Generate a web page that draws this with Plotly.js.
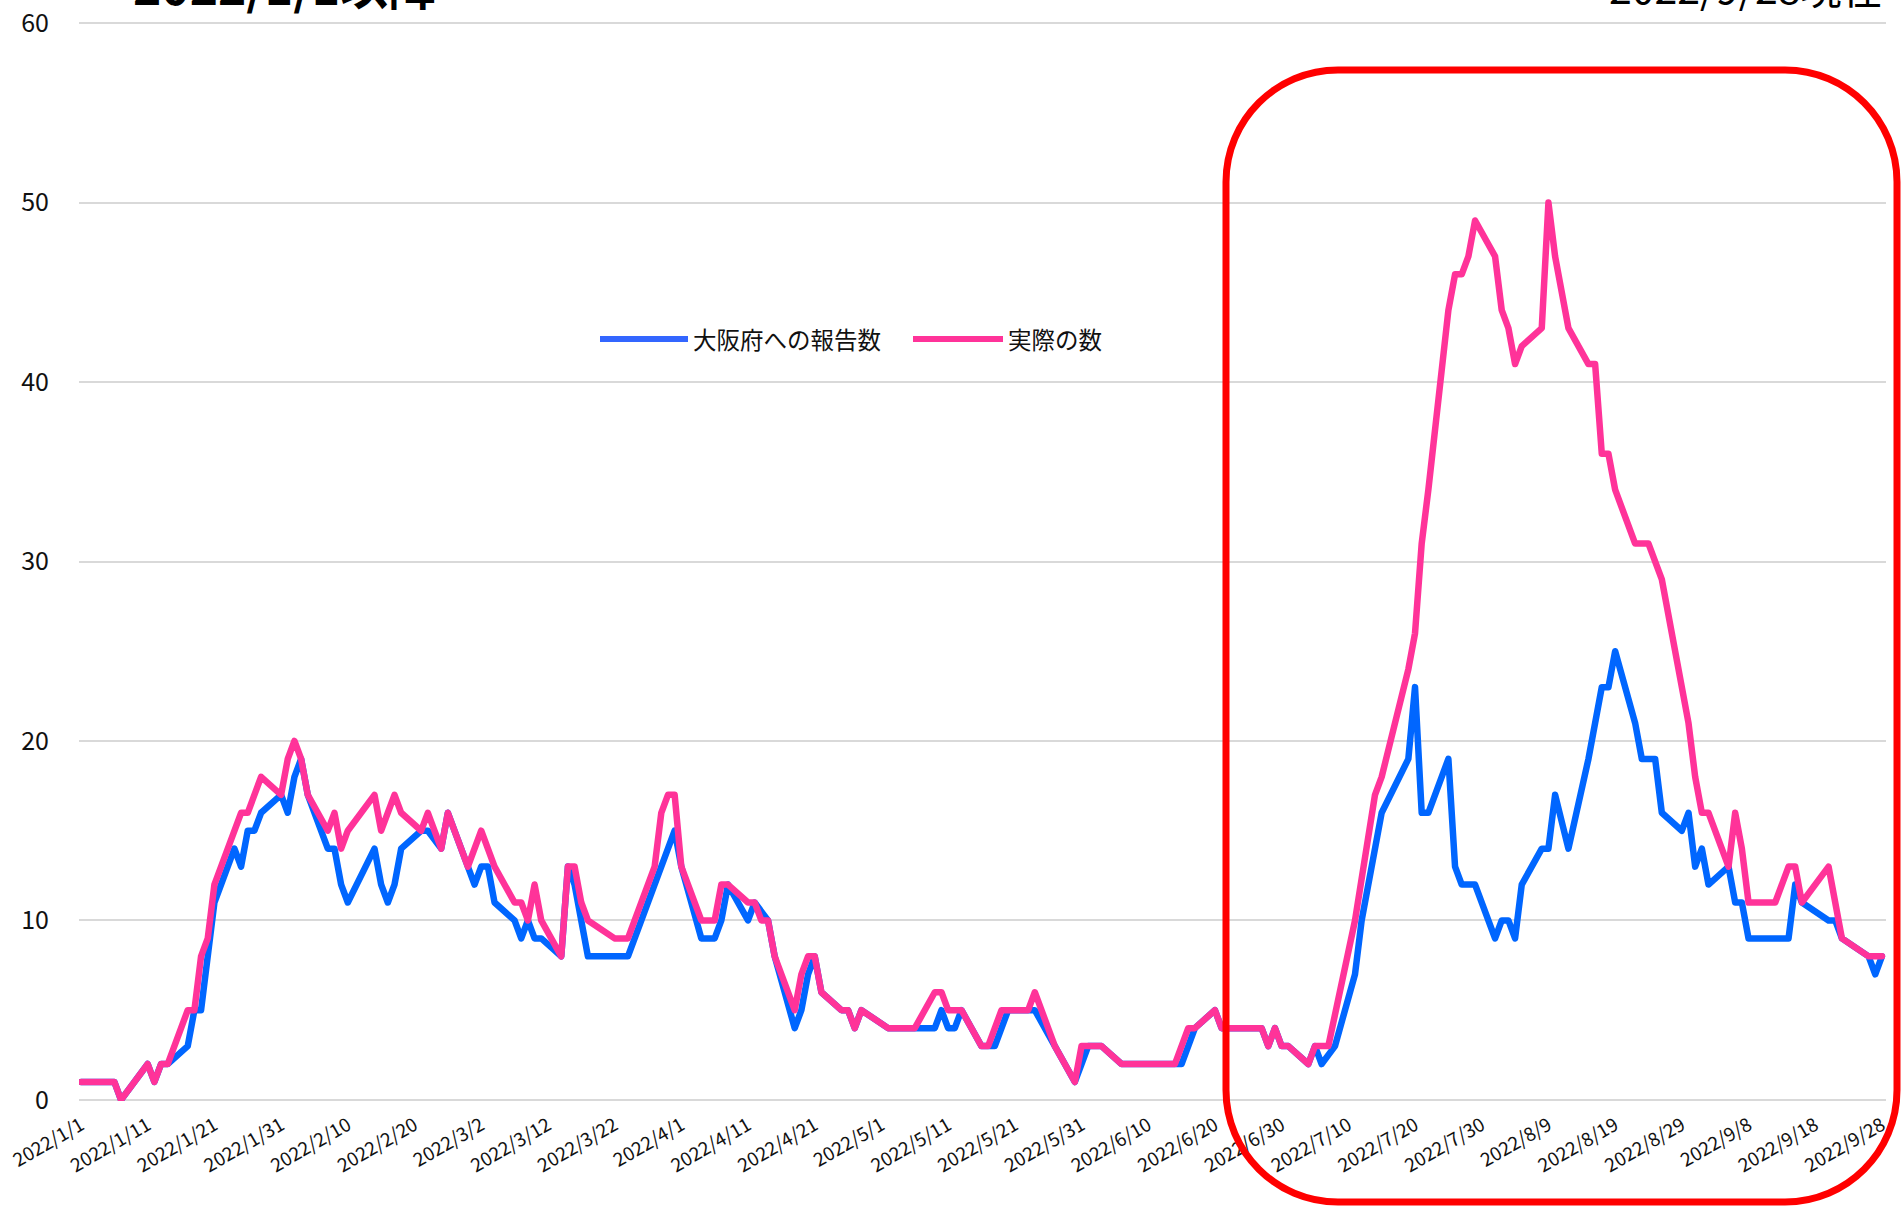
<!DOCTYPE html>
<html><head><meta charset="utf-8">
<script src="https://cdn.plot.ly/plotly-3.0.1.min.js"></script>
<style>
html,body{margin:0;padding:0;background:#fff;}
#chart{width:1901px;height:1206px;}
.scatterlayer .js-line{stroke-linejoin:round;stroke-linecap:round;}
</style></head><body><div id="chart"></div>
<script>
// ---- DATA ----
const seriesNames = ['大阪府への報告数', '実際の数'];
const titleLeft = '2022/1/1以降';
const titleRight = '2022/9/28現在';

const reportedDates = ['2022-01-01','2022-01-06','2022-01-07','2022-01-11','2022-01-12','2022-01-13','2022-01-14','2022-01-17','2022-01-18','2022-01-19','2022-01-21','2022-01-24','2022-01-25','2022-01-26','2022-01-27','2022-01-28','2022-01-31','2022-02-01','2022-02-02','2022-02-03','2022-02-04','2022-02-07','2022-02-08','2022-02-09','2022-02-10','2022-02-14','2022-02-15','2022-02-16','2022-02-17','2022-02-18','2022-02-21','2022-02-22','2022-02-24','2022-02-25','2022-02-28','2022-03-01','2022-03-02','2022-03-03','2022-03-04','2022-03-07','2022-03-08','2022-03-09','2022-03-10','2022-03-11','2022-03-14','2022-03-15','2022-03-16','2022-03-18','2022-03-24','2022-03-31','2022-04-01','2022-04-04','2022-04-06','2022-04-07','2022-04-08','2022-04-11','2022-04-12','2022-04-14','2022-04-15','2022-04-18','2022-04-19','2022-04-20','2022-04-21','2022-04-22','2022-04-25','2022-04-26','2022-04-27','2022-04-28','2022-05-02','2022-05-09','2022-05-10','2022-05-11','2022-05-12','2022-05-13','2022-05-16','2022-05-18','2022-05-20','2022-05-24','2022-05-27','2022-05-30','2022-05-31','2022-06-01','2022-06-03','2022-06-06','2022-06-15','2022-06-17','2022-06-20','2022-06-21','2022-06-27','2022-06-28','2022-06-29','2022-06-30','2022-07-01','2022-07-04','2022-07-05','2022-07-06','2022-07-08','2022-07-11','2022-07-12','2022-07-15','2022-07-19','2022-07-20','2022-07-21','2022-07-22','2022-07-25','2022-07-26','2022-07-27','2022-07-29','2022-08-01','2022-08-02','2022-08-03','2022-08-04','2022-08-05','2022-08-08','2022-08-09','2022-08-10','2022-08-12','2022-08-15','2022-08-17','2022-08-18','2022-08-19','2022-08-22','2022-08-23','2022-08-25','2022-08-26','2022-08-29','2022-08-30','2022-08-31','2022-09-01','2022-09-02','2022-09-05','2022-09-06','2022-09-07','2022-09-08','2022-09-14','2022-09-15','2022-09-16','2022-09-20','2022-09-21','2022-09-22','2022-09-26','2022-09-27','2022-09-28'];
const reportedValues = [1,1,0,2,1,2,2,3,5,5,11,14,13,15,15,16,17,16,18,19,17,14,14,12,11,14,12,11,12,14,15,15,14,16,13,12,13,13,11,10,9,10,9,9,8,13,12,8,8,15,13,9,9,10,12,10,11,10,8,4,5,7,8,6,5,5,4,5,4,4,5,4,4,5,3,3,5,5,3,1,2,3,3,2,2,4,5,4,4,3,4,3,3,2,3,2,3,7,10,16,19,23,16,16,19,13,12,12,9,10,10,9,12,14,14,17,14,19,23,23,25,21,19,19,16,15,16,13,14,12,13,11,11,9,9,12,11,10,10,9,8,7,8];

const actualDates = ['2022-01-01','2022-01-06','2022-01-07','2022-01-11','2022-01-12','2022-01-13','2022-01-14','2022-01-17','2022-01-18','2022-01-19','2022-01-20','2022-01-21','2022-01-25','2022-01-26','2022-01-28','2022-01-31','2022-02-01','2022-02-02','2022-02-03','2022-02-04','2022-02-07','2022-02-08','2022-02-09','2022-02-10','2022-02-14','2022-02-15','2022-02-17','2022-02-18','2022-02-21','2022-02-22','2022-02-24','2022-02-25','2022-02-28','2022-03-02','2022-03-04','2022-03-07','2022-03-08','2022-03-09','2022-03-10','2022-03-11','2022-03-14','2022-03-15','2022-03-16','2022-03-17','2022-03-18','2022-03-22','2022-03-24','2022-03-28','2022-03-29','2022-03-30','2022-03-31','2022-04-01','2022-04-04','2022-04-06','2022-04-07','2022-04-08','2022-04-11','2022-04-12','2022-04-13','2022-04-14','2022-04-15','2022-04-18','2022-04-19','2022-04-20','2022-04-21','2022-04-22','2022-04-25','2022-04-26','2022-04-27','2022-04-28','2022-05-02','2022-05-06','2022-05-09','2022-05-10','2022-05-11','2022-05-13','2022-05-16','2022-05-17','2022-05-19','2022-05-23','2022-05-24','2022-05-27','2022-05-30','2022-05-31','2022-06-03','2022-06-06','2022-06-14','2022-06-16','2022-06-17','2022-06-20','2022-06-21','2022-06-27','2022-06-28','2022-06-29','2022-06-30','2022-07-01','2022-07-04','2022-07-05','2022-07-07','2022-07-11','2022-07-14','2022-07-15','2022-07-19','2022-07-20','2022-07-21','2022-07-22','2022-07-25','2022-07-26','2022-07-27','2022-07-28','2022-07-29','2022-08-01','2022-08-02','2022-08-03','2022-08-04','2022-08-05','2022-08-08','2022-08-09','2022-08-10','2022-08-12','2022-08-15','2022-08-16','2022-08-17','2022-08-18','2022-08-19','2022-08-22','2022-08-24','2022-08-26','2022-08-30','2022-08-31','2022-09-01','2022-09-02','2022-09-05','2022-09-06','2022-09-07','2022-09-08','2022-09-12','2022-09-14','2022-09-15','2022-09-16','2022-09-20','2022-09-22','2022-09-26','2022-09-28'];
const actualValues = [1,1,0,2,1,2,2,5,5,8,9,12,16,16,18,17,19,20,19,17,15,16,14,15,17,15,17,16,15,16,14,16,13,15,13,11,11,10,12,10,8,13,13,11,10,9,9,13,16,17,17,13,10,10,12,12,11,11,10,10,8,5,7,8,8,6,5,5,4,5,4,4,6,6,5,5,3,3,5,5,6,3,1,3,3,2,2,4,4,5,4,4,3,4,3,3,2,3,3,10,17,18,24,26,31,34,44,46,46,47,49,47,44,43,41,42,43,50,47,43,41,41,36,36,34,31,31,29,21,18,16,16,13,16,14,11,11,13,13,11,13,9,8,8];

const tickLabels = ['2022/1/1','2022/1/11','2022/1/21','2022/1/31','2022/2/10','2022/2/20','2022/3/2','2022/3/12','2022/3/22','2022/4/1','2022/4/11','2022/4/21','2022/5/1','2022/5/11','2022/5/21','2022/5/31','2022/6/10','2022/6/20','2022/6/30','2022/7/10','2022/7/20','2022/7/30','2022/8/9','2022/8/19','2022/8/29','2022/9/8','2022/9/18','2022/9/28'];
const yTicks = [0, 10, 20, 30, 40, 50, 60];

// ---- STYLE / LAYOUT ----
const FONT = "'Noto Sans CJK JP', 'Noto Sans', sans-serif";
const BLUE = '#0066ff';
const PINK = '#ff3399';
const W = 1901, H = 1206;
const PL = 79, PR = 1886, PT = 22, PB = 1101;
const px2x = p => (p - PL) / (PR - PL);
const px2y = p => (PB - p) / (PB - PT);

const tickVals = tickLabels.map(s => {
  const [y, m, d] = s.split('/');
  return y + '-' + m.padStart(2, '0') + '-' + d.padStart(2, '0');
});

function roundRectPath(L, T, R, B, r) {
  const k = 0.5523 * r;
  const P = (x, y) => px2x(x).toFixed(5) + ',' + px2y(y).toFixed(5);
  return 'M' + P(L + r, T) + ' L' + P(R - r, T) +
    ' C' + P(R - r + k, T) + ' ' + P(R, T + r - k) + ' ' + P(R, T + r) +
    ' L' + P(R, B - r) +
    ' C' + P(R, B - r + k) + ' ' + P(R - r + k, B) + ' ' + P(R - r, B) +
    ' L' + P(L + r, B) +
    ' C' + P(L + r - k, B) + ' ' + P(L, B - r + k) + ' ' + P(L, B - r) +
    ' L' + P(L, T + r) +
    ' C' + P(L, T + r - k) + ' ' + P(L + r - k, T) + ' ' + P(L + r, T) + ' Z';
}

const traces = [
  {x: reportedDates, y: reportedValues, type: 'scatter', mode: 'lines', name: seriesNames[0],
   line: {color: BLUE, width: 6.5}, hoverinfo: 'x+y'},
  {x: actualDates, y: actualValues, type: 'scatter', mode: 'lines', name: seriesNames[1],
   line: {color: PINK, width: 6.5}, hoverinfo: 'x+y'}
];

const legendY = 339;
const layout = {
  width: W, height: H,
  margin: {l: PL, r: W - PR, t: PT, b: H - PB, pad: 0},
  paper_bgcolor: '#ffffff', plot_bgcolor: '#ffffff',
  showlegend: false,
  font: {family: FONT, color: '#111111'},
  xaxis: {
    type: 'date',
    range: ['2021-12-31 16:48:00', '2022-09-28 14:38:00'],
    tickmode: 'array', tickvals: tickVals, ticktext: tickLabels,
    tickangle: -30, tickfont: {family: FONT, size: 19, color: '#111111'},
    showgrid: false, zeroline: false, showline: false,
    ticks: 'outside', ticklen: 5, tickcolor: 'rgba(0,0,0,0)'
  },
  yaxis: {
    range: [-0.06, 60.06],
    tickmode: 'array', tickvals: yTicks,
    tickfont: {family: FONT, size: 25, color: '#111111'},
    showgrid: true, gridcolor: '#d9d9d9', gridwidth: 2,
    zeroline: false, showline: false,
    ticks: 'outside', ticklen: 24, tickcolor: 'rgba(0,0,0,0)'
  },
  shapes: [
    {type: 'line', xref: 'paper', yref: 'paper', x0: px2x(600), x1: px2x(688), y0: px2y(legendY), y1: px2y(legendY),
     line: {color: '#3366ff', width: 6}},
    {type: 'line', xref: 'paper', yref: 'paper', x0: px2x(913), x1: px2x(1003), y0: px2y(legendY), y1: px2y(legendY),
     line: {color: PINK, width: 6}},
    {type: 'path', xref: 'paper', yref: 'paper', layer: 'above',
     path: roundRectPath(1226, 70, 1897, 1202, 112),
     line: {color: '#ff0000', width: 7}}
  ],
  annotations: [
    {xref: 'paper', yref: 'paper', x: px2x(691), y: px2y(legendY), xanchor: 'left', yanchor: 'middle',
     text: seriesNames[0], showarrow: false, font: {family: FONT, size: 23.5, color: '#111111'}},
    {xref: 'paper', yref: 'paper', x: px2x(1006), y: px2y(legendY), xanchor: 'left', yanchor: 'middle',
     text: seriesNames[1], showarrow: false, font: {family: FONT, size: 23.5, color: '#111111'}},
    {xref: 'paper', yref: 'paper', x: px2x(131), y: px2y(21), xanchor: 'left', yanchor: 'bottom',
     text: '<b>' + titleLeft + '</b>', showarrow: false, font: {family: FONT, size: 48, color: '#000000'}},
    {xref: 'paper', yref: 'paper', x: px2x(1884), y: px2y(18), xanchor: 'right', yanchor: 'bottom',
     text: titleRight, showarrow: false, font: {family: FONT, size: 41, color: '#000000'}}
  ]
};

Plotly.newPlot('chart', traces, layout, {displayModeBar: false, responsive: false});
</script></body></html>
